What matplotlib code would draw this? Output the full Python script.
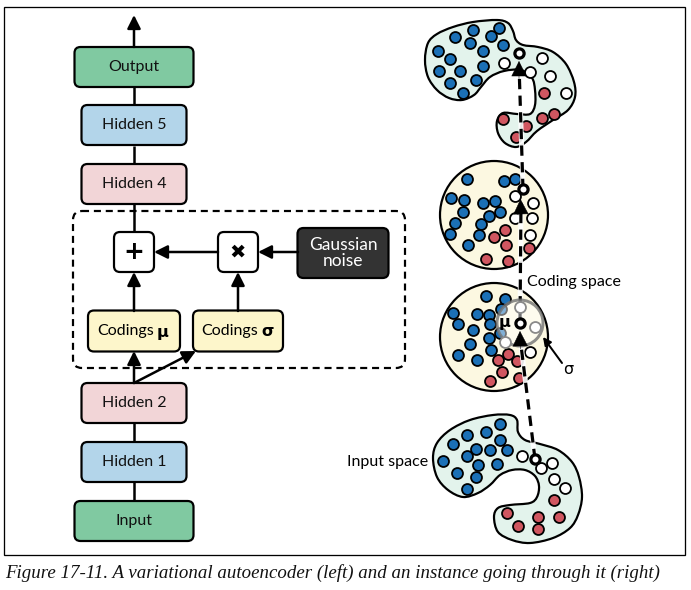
import numpy as np
import matplotlib
matplotlib.use("Agg")
import matplotlib.pyplot as plt
from matplotlib.patches import FancyBboxPatch, PathPatch, Circle, Rectangle
from matplotlib.path import Path

W, H = 691, 590

# ---- left network ----
STACK_LABELS = ["Input", "Hidden 1", "Hidden 2", "Hidden 4", "Hidden 5", "Output"]
STACK_COLORS = ["#80c9a1", "#b3d5ea", "#f2d5d7", "#f2d5d7", "#b3d5ea", "#80c9a1"]
CODING_LABELS = ["μ", "σ"]
NOISE_LABEL = "Gaussian\nnoise"
CAPTION = "Figure 17-11. A variational autoencoder (left) and an instance going through it (right)"

# ---- right side: point clouds (pixel positions) ----
TOP_BLUE = [(438, 51), (455, 37), (473, 30), (499, 28), (491, 36), (470, 43), (483, 51),
            (503, 45), (450, 59), (439, 71), (460, 71), (483, 66), (450, 83), (476, 80), (463, 93)]
TOP_WHITE = [(504, 63), (542, 58), (530, 72), (550, 76), (566, 93)]
TOP_RED = [(544, 93), (554, 114), (542, 118), (526, 126), (503, 119), (516, 137)]
TOP_PICK = (519, 53)

C1_BLUE = [(467, 179), (504, 181), (515, 179), (451, 198), (464, 200), (483, 203), (495, 201),
           (463, 212), (489, 216), (500, 212), (455, 223), (481, 224), (450, 234), (479, 235), (468, 245)]
C1_RED = [(505, 230), (494, 237), (506, 245), (529, 248), (486, 259), (508, 261)]
C1_WHITE = [(515, 196), (533, 203), (532, 218), (515, 218), (530, 235)]
C1_PICK = (523, 189)

C2_BLUE = [(486, 296), (505, 299), (453, 313), (477, 314), (489, 315), (501, 309), (458, 324),
           (490, 324), (473, 330), (500, 333), (489, 338), (470, 344), (491, 350), (458, 355), (477, 360)]
C2_RED = [(498, 360), (508, 354), (517, 361), (502, 372), (490, 381), (519, 378)]
C2_GRAY = [(520, 307), (535, 327), (505, 342)]
C2_WHITE = [(530, 352)]
C2_MU = (520, 323)

BOT_BLUE = [(500, 424), (467, 435), (486, 432), (453, 444), (500, 440), (476, 449), (490, 450),
            (507, 450), (467, 456), (443, 461), (478, 465), (497, 464), (457, 473), (476, 477), (467, 489)]
BOT_WHITE = [(522, 456), (541, 468), (552, 463), (554, 479), (565, 488)]
BOT_RED = [(554, 500), (507, 513), (538, 517), (559, 517), (518, 526), (538, 529)]
BOT_PICK = (535, 459)

TOP_OUTLINE = [(425, 60), (428, 43), (437, 34), (453, 27), (473, 22), (497, 20), (508, 23), (513, 31),
               (516, 40), (523, 45), (538, 47), (553, 52), (566, 64), (574, 82), (575, 97), (568, 110),
               (553, 120), (537, 131), (526, 142), (516, 147), (505, 143), (498, 133), (497, 121),
               (503, 113), (517, 114), (530, 114), (535, 105), (535, 90), (532, 78), (521, 70),
               (504, 71), (490, 77), (481, 87), (474, 95), (462, 100), (449, 98), (437, 90), (428, 77)]
BOT_OUTLINE = [(433, 458), (437, 443), (450, 430), (470, 420), (493, 415), (510, 415), (517, 420),
               (518, 432), (525, 440), (540, 444), (558, 450), (572, 462), (579, 477), (582, 497),
               (578, 515), (570, 528), (553, 538), (530, 543), (512, 540), (498, 532), (494, 517),
               (498, 508), (510, 505), (530, 503), (537, 497), (539, 486), (535, 476), (525, 470),
               (512, 470), (500, 475), (490, 485), (478, 493), (463, 497), (448, 490), (437, 477)]

BLUE = "#1b70b6"
RED = "#d05660"
BLOB_FILL = "#e3f3ec"
DISC_FILL = "#fcf8e1"
FONT = "Lato"
FS = 11.5


def px(v):
    return v * 72 / 100


def smooth_closed(pts):
    P = np.array(pts, float)
    n = len(P)
    verts, codes = [P[0]], [Path.MOVETO]
    for i in range(n):
        p0, p1, p2, p3 = P[i - 1], P[i], P[(i + 1) % n], P[(i + 2) % n]
        verts += [p1 + (p2 - p0) / 6, p2 - (p3 - p1) / 6, p2]
        codes += [Path.CURVE4] * 3
    verts.append(P[0])
    codes.append(Path.CLOSEPOLY)
    return Path(verts, codes)


def box(ax, cx, cy, w, h, fc, label=None, tc="#111111", fs=FS):
    ax.add_patch(FancyBboxPatch((cx - w / 2, cy - h / 2), w, h,
                                boxstyle="round,pad=0,rounding_size=6",
                                fc=fc, ec="black", lw=px(2.2), zorder=3))
    if label is not None:
        ax.text(cx, cy, label, ha="center", va="center", color=tc, fontsize=fs,
                family=FONT, linespacing=1.0, zorder=4)


def arrow(ax, start, end, lw=2.5, ms=20, z=5):
    ax.annotate("", xy=end, xytext=start,
                arrowprops=dict(arrowstyle="-|>", color="black", lw=px(lw),
                                mutation_scale=ms, shrinkA=0, shrinkB=0), zorder=z)


def line(ax, start, end, lw=2.5):
    ax.plot([start[0], end[0]], [start[1], end[1]], color="black", lw=px(lw),
            solid_capstyle="butt", zorder=2)


def dots(ax, pts, fc, ec="black", lw=1.3, s=62, z=6):
    a = np.array(pts)
    ax.scatter(a[:, 0], a[:, 1], s=s, c=fc, edgecolors=ec, linewidths=lw, zorder=z)


def dashed(ax, start, end):
    xs, ys = [start[0], end[0]], [start[1], end[1]]
    ax.plot(xs, ys, color="white", lw=px(5), alpha=0.9, zorder=7, solid_capstyle="butt")
    ax.plot(xs, ys, color="black", lw=px(3.2), dashes=(3.2, 2.0), zorder=8)


fig = plt.figure(figsize=(W / 100, H / 100), dpi=100)
ax = fig.add_axes([0, 0, 1, 1])
ax.set_xlim(0, W)
ax.set_ylim(H, 0)
ax.axis("off")

# frame + caption
ax.add_patch(Rectangle((4.5, 6.5), 681, 548.5, fill=False, ec="black", lw=px(1.3), zorder=1))
ax.text(5, 573, CAPTION, ha="left", va="center", fontsize=13.6,
        family="Liberation Serif", style="italic", color="#111111")

# ---------- left: network ----------
CX = 134
stack_y = [521, 462, 403, 184, 125, 67]
stack_w = [119, 105, 105, 105, 105, 119]
for lab, col, y, w in zip(STACK_LABELS, STACK_COLORS, stack_y, stack_w):
    box(ax, CX, y, w, 40, col, lab)

line(ax, (CX, 541), (CX, 462))
line(ax, (CX, 462), (CX, 403))
line(ax, (CX, 204), (CX, 252))
line(ax, (CX, 146), (CX, 164))
line(ax, (CX, 87), (CX, 105))
arrow(ax, (CX, 47), (CX, 15))

# dashed sampling block
ax.add_patch(FancyBboxPatch((73, 211), 332, 157, boxstyle="round,pad=0,rounding_size=9",
                            fill=False, ec="black", lw=px(2.2), ls=(0, (3.2, 2.2)), zorder=2))

box(ax, CX, 252, 40, 40, "white")
ax.text(CX, 252, "+", ha="center", va="center", fontsize=18, fontweight="bold",
        family="DejaVu Sans", zorder=4)
box(ax, 238, 252, 40, 40, "white")
ax.text(238, 252, "✖", ha="center", va="center", fontsize=14, family="DejaVu Sans", zorder=4)
box(ax, 343, 253, 91, 50, "#333333", NOISE_LABEL, tc="white", fs=12.5)

arrow(ax, (298, 252), (258, 252))
arrow(ax, (218, 252), (154, 252))

# codings boxes
box(ax, CX, 331, 92, 41, "#fdf6cb")
box(ax, 238, 331, 90, 41, "#fdf6cb")
ax.text(154, 331, "Codings", ha="right", va="center", fontsize=FS, family=FONT, zorder=4)
ax.text(157, 332, CODING_LABELS[0], ha="left", va="center", fontsize=FS, fontweight="bold",
        family="DejaVu Sans", zorder=4)
ax.text(258, 331, "Codings", ha="right", va="center", fontsize=FS, family=FONT, zorder=4)
ax.text(261, 332, CODING_LABELS[1], ha="left", va="center", fontsize=FS, fontweight="bold",
        family="DejaVu Sans", zorder=4)

arrow(ax, (CX, 311), (CX, 272))
arrow(ax, (238, 311), (238, 272))
arrow(ax, (CX, 383), (CX, 351))
arrow(ax, (CX, 383), (196, 351))

# ---------- right: spaces ----------
for outline in (TOP_OUTLINE, BOT_OUTLINE):
    ax.add_patch(PathPatch(smooth_closed(outline), fc=BLOB_FILL, ec="black", lw=px(2.2), zorder=3))
for c in ((494, 215), (494, 337)):
    ax.add_patch(Circle(c, 54, fc=DISC_FILL, ec="black", lw=px(2.2), zorder=3))

dots(ax, TOP_BLUE, BLUE)
dots(ax, TOP_RED, RED)
dots(ax, TOP_WHITE, "white")
dots(ax, C1_BLUE, BLUE)
dots(ax, C1_RED, RED)
dots(ax, C1_WHITE, "white")
dots(ax, C2_BLUE, BLUE)
dots(ax, C2_RED, RED)
dots(ax, C2_WHITE, "white")
dots(ax, BOT_BLUE, BLUE)
dots(ax, BOT_RED, RED)
dots(ax, BOT_WHITE, "white")

# sigma neighbourhood around mu
ax.add_patch(Circle(C2_MU, 23, fc=(1, 1, 1, 0.45), ec=(0.45, 0.45, 0.45, 0.8), lw=px(3), zorder=9))
dots(ax, C2_GRAY, "white", ec="#8a8a8a", z=10)

# trajectory of one instance
dashed(ax, BOT_PICK, (C2_MU[0], C2_MU[1] + 14))
dashed(ax, C2_MU, (C1_PICK[0] - 2, C1_PICK[1] + 14))
dashed(ax, C1_PICK, (TOP_PICK[0], TOP_PICK[1] + 12))
arrow(ax, (C2_MU[0] + 0.3, C2_MU[1] + 26), (C2_MU[0], C2_MU[1] + 8), lw=0.5, ms=26, z=11)
arrow(ax, (C1_PICK[0] - 2, C1_PICK[1] + 28), (C1_PICK[0] - 2.5, C1_PICK[1] + 10), lw=0.5, ms=26, z=11)
arrow(ax, (TOP_PICK[0], TOP_PICK[1] + 26), (TOP_PICK[0], TOP_PICK[1] + 8), lw=0.5, ms=26, z=11)

for p in (TOP_PICK, C1_PICK, C2_MU, BOT_PICK):
    ax.scatter([p[0]], [p[1]], s=44, c="white", edgecolors="black", linewidths=px(3.2), zorder=12)

ax.text(511, 322, "μ", ha="right", va="center", fontsize=FS, fontweight="bold",
        family="DejaVu Sans", zorder=12)
ax.annotate("", xy=(543, 337), xytext=(562, 363),
            arrowprops=dict(arrowstyle="-|>", color="black", lw=px(2), mutation_scale=12,
                            shrinkA=0, shrinkB=0), zorder=12)
ax.text(563, 370, "σ", ha="left", va="center", fontsize=FS, family="DejaVu Sans")

ax.text(527, 282, "Coding space", ha="left", va="center", fontsize=FS, family=FONT)
ax.text(347, 462, "Input space", ha="left", va="center", fontsize=FS, family=FONT)

fig.savefig("out.png", dpi=100)
